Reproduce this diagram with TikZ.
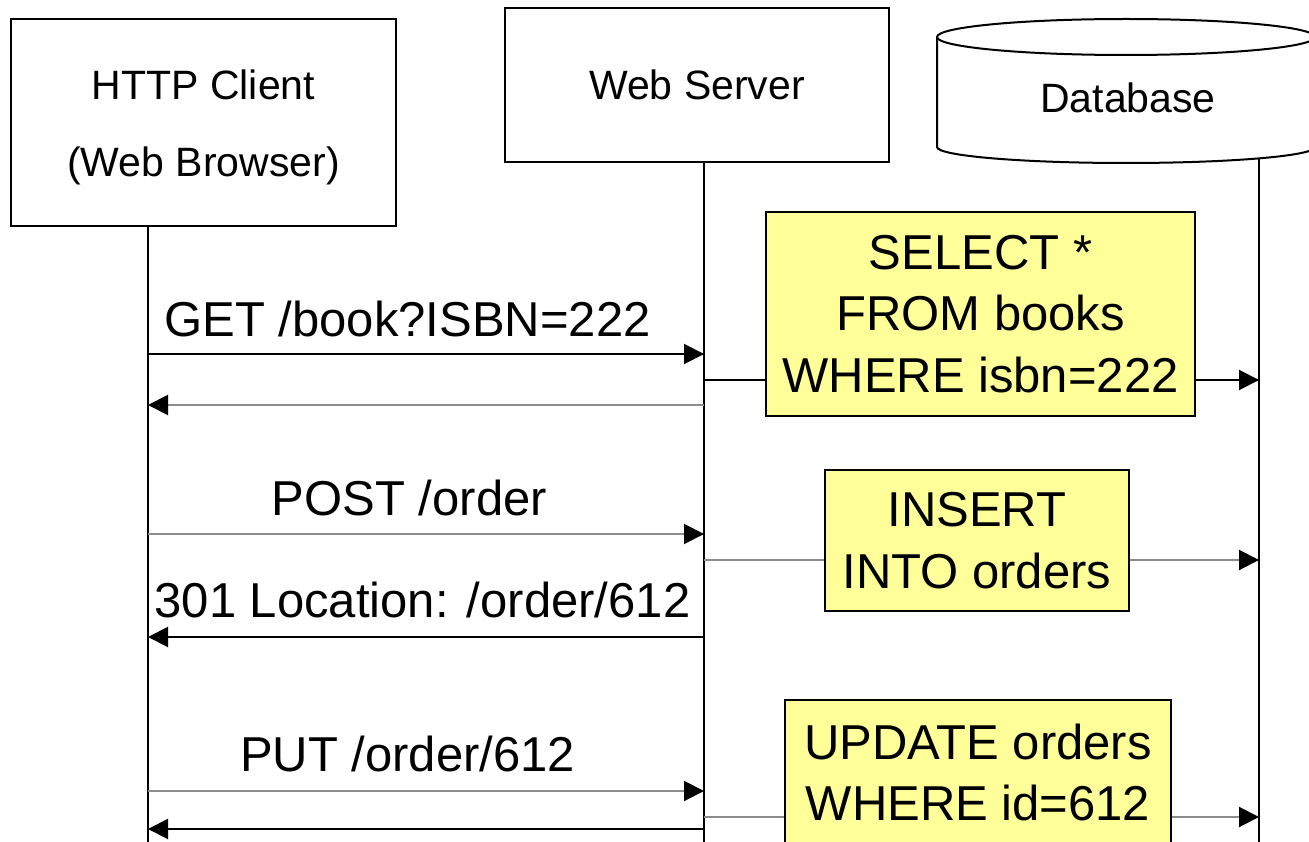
\documentclass[tikz,border=0pt]{standalone}
\usepackage{fontspec}
\setmainfont{Liberation Sans}
\usetikzlibrary{arrows.meta}
\definecolor{noteyellow}{HTML}{FFFF99}
\definecolor{linegray}{HTML}{8C8C8C}
\begin{document}
\begin{tikzpicture}[x=1pt,y=-1pt,
  actor/.style={draw,line width=2pt,fill=white,inner sep=0pt},
  boxtext/.style={anchor=base,inner sep=0pt,font=\fontsize{41}{50}\selectfont},
  life/.style={line width=2pt},
  msg/.style={line width=2pt,-{Triangle[length=20pt,width=20pt,color=black,fill=black]}},
  graymsg/.style={msg,draw=linegray},
  msglabel/.style={anchor=base,inner sep=0pt,font=\fontsize{49}{60}\selectfont},
  note/.style={draw,line width=1.5pt,fill=noteyellow,inner sep=0pt,align=center,
    font=\fontsize{49}{61.5}\selectfont}
]
\useasboundingbox (0,0) rectangle (1309,842);
\clip (0,0) rectangle (1309,842);
\fill[white] (0,0) rectangle (1309,842);

% actors
\node[actor,minimum width=385pt,minimum height=207pt] (client) at (203.5,122.5) {};
\node[boxtext] (clientA) at (203.5,100) {HTTP Client};
\node[boxtext] (clientB) at (203.5,177) {(Web Browser)};
\node[actor,minimum width=384pt,minimum height=154pt] (server) at (697,85) {};
\node[boxtext] (serverT) at (697,100) {Web Server};
% database cylinder
\draw[line width=2pt,fill=white] (937,37) -- (937,147)
  arc[start angle=180,end angle=360,x radius=189pt,y radius=16pt] -- (1315,37);
\draw[line width=2pt,fill=white] (1126,37) ellipse[x radius=189pt,y radius=18pt];
\node[boxtext] (dbT) at (1128,113) {Database};

% lifelines
\coordinate (clBot) at (148,842);
\coordinate (svBot) at (704,842);
\coordinate (dbTop) at (1259,158.5);
\coordinate (dbBot) at (1259,842);
\draw[life] (client.south -| clBot) -- (clBot);
\draw[life] (server.south -| svBot) -- (svBot);
\draw[life] (dbTop) -- (dbBot);

% message endpoints
\foreach \n/\y in {1/354,2/405,3/380,4/534,5/560,6/637,7/791,8/817,9/829}{
  \coordinate (c\n) at (148,\y);
  \coordinate (s\n) at (704,\y);
  \coordinate (d\n) at (1259,\y);
}

% messages
\draw[msg] (c1) -- (s1);
\node[msglabel] (l1) at (407.5,337) {GET /book?ISBN=222};
\draw[graymsg] (s2) -- (c2);
\draw[msg] (s3) -- (d3);

\draw[graymsg] (c4) -- (s4);
\node[msglabel] (l4) at (409.5,515) {POST /order};
\draw[graymsg] (s5) -- (d5);
\draw[msg] (s6) -- (c6);
\node[msglabel] (l6) at (422.5,617) {301 Location: /order/612};

\draw[graymsg] (c7) -- (s7);
\node[msglabel] (l7) at (407.5,771) {PUT /order/612};
\draw[graymsg] (s8) -- (d8);
\draw[msg] (s9) -- (c9);

% notes
\node[note,minimum width=429pt,minimum height=204pt] (q1) at (980.5,314)
  {SELECT *\\FROM books\\WHERE isbn=222};
\node[note,minimum width=304pt,minimum height=141pt] (q2) at (977,540.5)
  {INSERT\\INTO orders};
\node[note,minimum width=386pt,minimum height=145pt] (q3) at (978,772.5)
  {UPDATE orders\\WHERE id=612};
\end{tikzpicture}
\end{document}
